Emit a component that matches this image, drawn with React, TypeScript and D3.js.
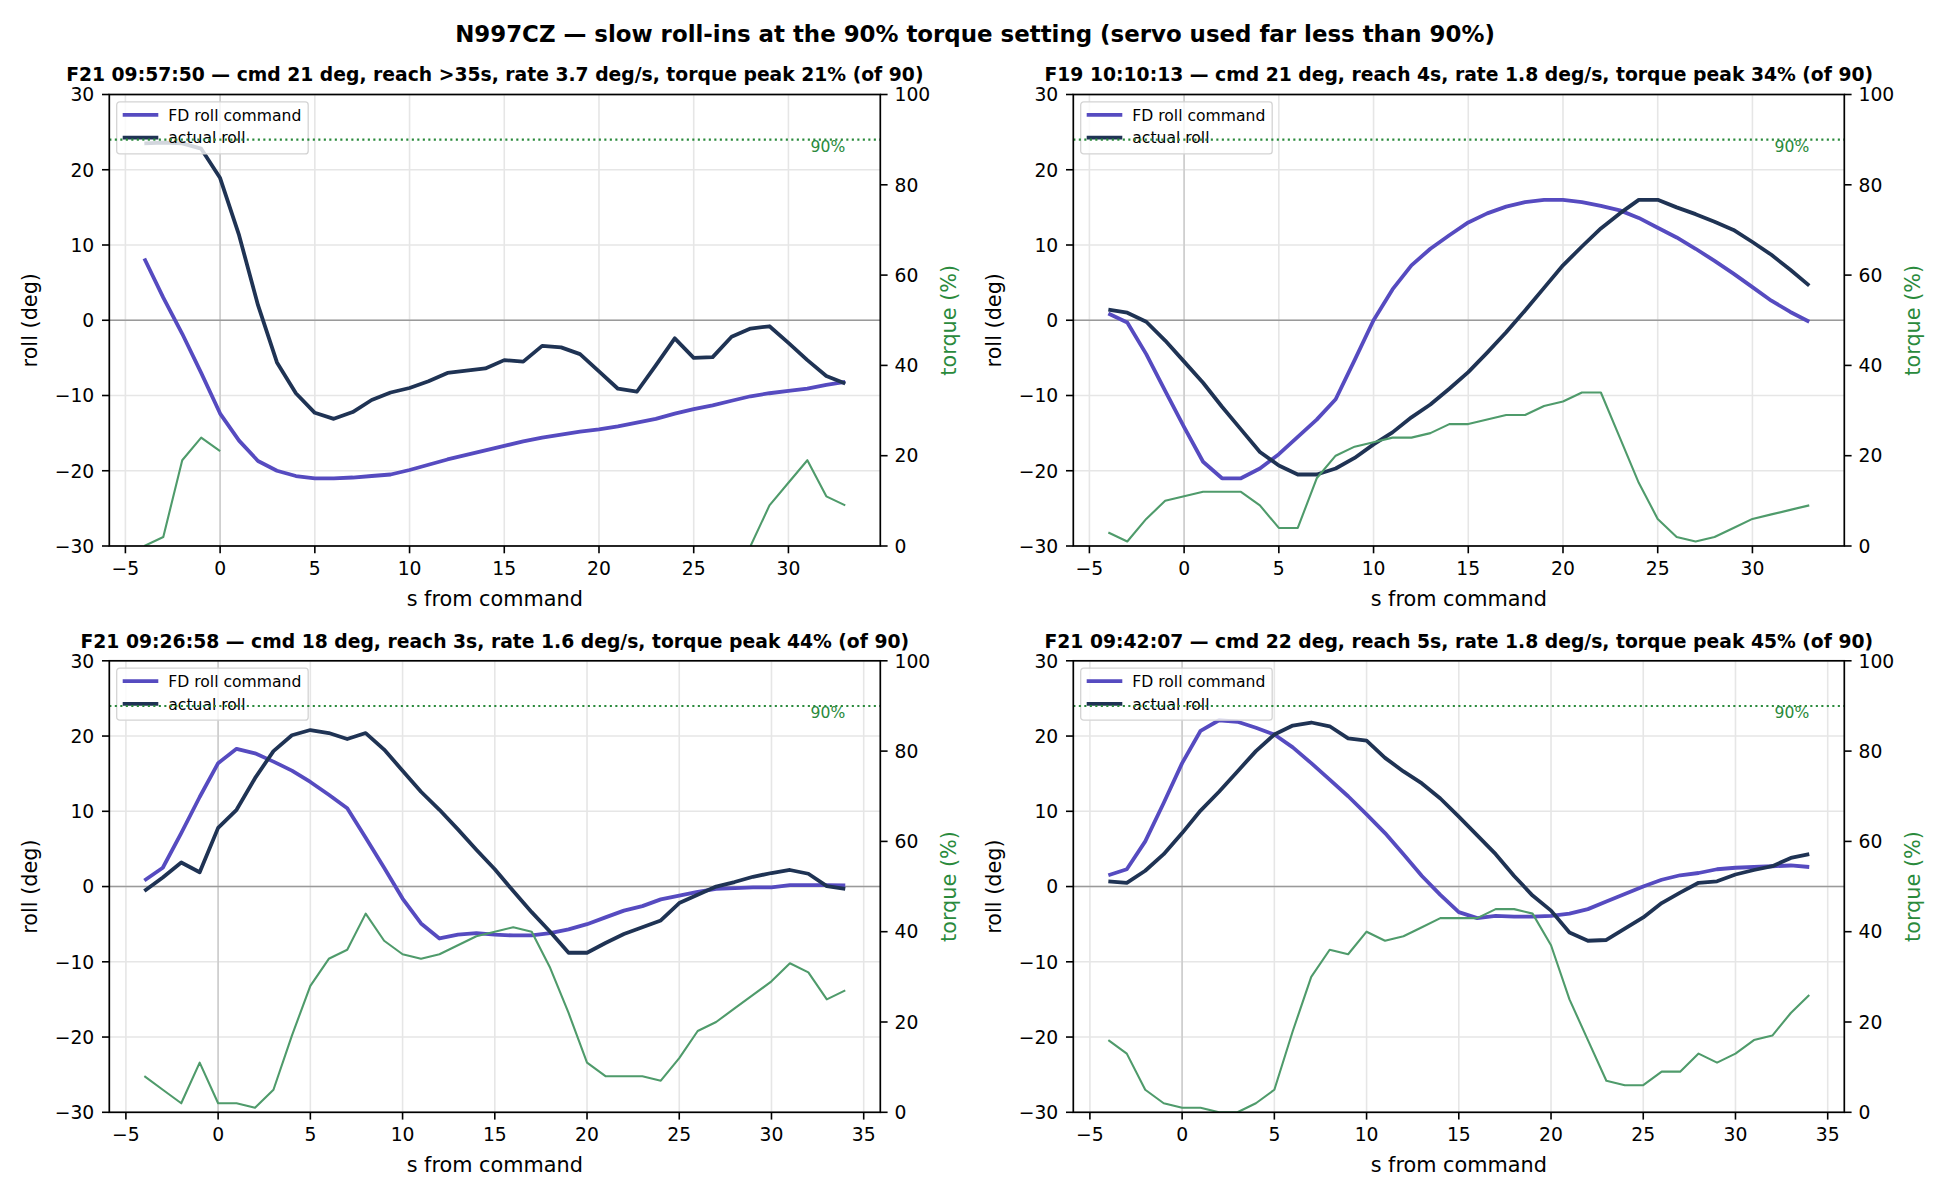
import React from 'react';
import * as d3 from 'd3';

// seconds relative to the roll command
const secsTop = [-4, -3, -2, -1, 0, 1, 2, 3, 4, 5, 6, 7, 8, 9, 10, 11, 12, 13, 14, 15, 16, 17, 18, 19, 20, 21, 22, 23, 24, 25, 26, 27, 28, 29, 30, 31, 32, 33];
const secsBottom = [-4, -3, -2, -1, 0, 1, 2, 3, 4, 5, 6, 7, 8, 9, 10, 11, 12, 13, 14, 15, 16, 17, 18, 19, 20, 21, 22, 23, 24, 25, 26, 27, 28, 29, 30, 31, 32, 33, 34];

// F21 09:57:50
const cmdA = [8.2, 3.0, -1.8, -7.0, -12.4, -16.0, -18.7, -20.0, -20.7, -21.0, -21.0, -20.9, -20.7, -20.5, -19.9, -19.2, -18.5, -17.9, -17.3, -16.7, -16.1, -15.6, -15.2, -14.8, -14.5, -14.1, -13.6, -13.1, -12.4, -11.8, -11.3, -10.7, -10.1, -9.7, -9.4, -9.1, -8.6, -8.2];
const rollA = [23.5, 23.6, 23.5, 22.8, 18.9, 11.3, 2.0, -5.6, -9.7, -12.3, -13.1, -12.2, -10.6, -9.6, -9.0, -8.1, -7.0, -6.7, -6.4, -5.3, -5.5, -3.4, -3.6, -4.5, -6.8, -9.1, -9.5, -6.0, -2.4, -5.0, -4.9, -2.2, -1.1, -0.8, -3.0, -5.3, -7.4, -8.4];
const torqueA = [0, 2, 19, 24, 21, null, null, null, null, null, null, null, null, null, null, null, null, null, null, null, null, null, null, null, null, null, null, null, null, null, null, null, 0, 9, 14, 19, 11, 9];

// F19 10:10:13
const cmdB = [0.9, -0.3, -4.5, -9.4, -14.2, -18.8, -21.0, -21.0, -19.7, -17.8, -15.5, -13.2, -10.5, -5.3, 0.0, 4.1, 7.3, 9.5, 11.3, 13.0, 14.2, 15.1, 15.7, 16.0, 16.0, 15.7, 15.2, 14.6, 13.6, 12.3, 11.0, 9.5, 7.9, 6.2, 4.4, 2.6, 1.1, -0.2];
const rollB = [1.4, 1.0, -0.2, -2.7, -5.5, -8.3, -11.5, -14.5, -17.5, -19.3, -20.5, -20.5, -19.7, -18.3, -16.5, -14.9, -12.9, -11.2, -9.1, -6.9, -4.3, -1.6, 1.3, 4.3, 7.3, 9.8, 12.2, 14.2, 16.0, 16.0, 15.0, 14.1, 13.1, 12.0, 10.4, 8.7, 6.7, 4.6];
const torqueB = [3, 1, 6, 10, 11, 12, 12, 12, 9, 4, 4, 15, 20, 22, 23, 24, 24, 25, 27, 27, 28, 29, 29, 31, 32, 34, 34, 24, 14, 6, 2, 1, 2, 4, 6, 7, 8, 9];

// F21 09:26:58
const cmdC = [0.8, 2.5, 7.1, 11.9, 16.4, 18.3, 17.7, 16.6, 15.4, 13.9, 12.2, 10.4, 6.5, 2.5, -1.6, -4.9, -6.9, -6.4, -6.2, -6.4, -6.5, -6.5, -6.2, -5.7, -5.0, -4.1, -3.2, -2.6, -1.7, -1.2, -0.7, -0.3, -0.2, -0.1, -0.1, 0.2, 0.2, 0.2, 0.15];
const rollC = [-0.6, 1.2, 3.2, 1.9, 7.8, 10.2, 14.4, 18.0, 20.1, 20.8, 20.4, 19.6, 20.4, 18.2, 15.4, 12.6, 10.2, 7.6, 4.9, 2.3, -0.6, -3.4, -6.0, -8.8, -8.8, -7.5, -6.3, -5.4, -4.5, -2.2, -1.1, 0.0, 0.6, 1.3, 1.8, 2.2, 1.7, 0.05, -0.3];
const torqueC = [8, 5, 2, 11, 2, 2, 1, 5, 17, 28, 34, 36, 44, 38, 35, 34, 35, 37, 39, 40, 41, 40, 32, 22, 11, 8, 8, 8, 7, 12, 18, 20, 23, 26, 29, 33, 31, 25, 27];

// F21 09:42:07
const cmdD = [1.5, 2.3, 6.0, 11.1, 16.4, 20.7, 22.1, 21.9, 21.1, 20.2, 18.5, 16.4, 14.2, 12.0, 9.6, 7.1, 4.3, 1.4, -1.1, -3.4, -4.2, -3.9, -4.0, -4.0, -3.9, -3.6, -3.0, -2.0, -1.0, 0.0, 0.9, 1.5, 1.8, 2.3, 2.5, 2.6, 2.7, 2.8, 2.6];
const rollD = [0.7, 0.5, 2.1, 4.3, 7.1, 10.1, 12.6, 15.3, 18.0, 20.2, 21.4, 21.8, 21.3, 19.7, 19.4, 17.1, 15.3, 13.7, 11.7, 9.3, 6.8, 4.3, 1.4, -1.2, -3.2, -6.1, -7.2, -7.1, -5.6, -4.1, -2.2, -0.8, 0.5, 0.7, 1.6, 2.2, 2.7, 3.8, 4.3];
const torqueD = [16, 13, 5, 2, 1, 1, 0, 0, 2, 5, 18, 30, 36, 35, 40, 38, 39, 41, 43, 43, 43, 45, 45, 44, 37, 25, 16, 7, 6, 6, 9, 9, 13, 11, 13, 16, 17, 22, 26];

const panelTitles = [
  'F21 09:57:50 \u2014 cmd 21 deg, reach >35s, rate 3.7 deg/s, torque peak 21% (of 90)',
  'F19 10:10:13 \u2014 cmd 21 deg, reach 4s, rate 1.8 deg/s, torque peak 34% (of 90)',
  'F21 09:26:58 \u2014 cmd 18 deg, reach 3s, rate 1.6 deg/s, torque peak 44% (of 90)',
  'F21 09:42:07 \u2014 cmd 22 deg, reach 5s, rate 1.8 deg/s, torque peak 45% (of 90)',
];
const suptitle = 'N997CZ \u2014 slow roll-ins at the 90% torque setting (servo used far less than 90%)';

const xTicksTop = [-5, 0, 5, 10, 15, 20, 25, 30];
const xTicksBottom = [-5, 0, 5, 10, 15, 20, 25, 30, 35];
const rollTicks = [-30, -20, -10, 0, 10, 20, 30];
const torqueTicks = [0, 20, 40, 60, 80, 100];
const torqueLimit = 90;

const FONT = 'DejaVu Sans';
const CMD_COLOR = '#564bc0';
const ROLL_COLOR = '#1f3354';
const TORQUE_COLOR = '#4f9b6b';
const LIMIT_COLOR = '#2a8a3c';

const AX_W = 771;
const AX_H = 451.5;
const colLeft = [109.3, 1073.3];
const rowTop = [94.5, 660.8];

const fmt = (v: number) => (v < 0 ? '\u2212' + Math.abs(v) : String(v));

type PanelProps = {
  id: string;
  left: number;
  top: number;
  title: string;
  secs: number[];
  cmd: number[];
  roll: number[];
  torque: (number | null)[];
  xTicks: number[];
};

function Panel({ id, left, top, title, secs, cmd, roll, torque, xTicks }: PanelProps) {
  const lo = secs[0];
  const hi = secs[secs.length - 1];
  const pad = (hi - lo) * 0.05;
  const x = d3.scaleLinear().domain([lo - pad, hi + pad]).range([0, AX_W]);
  const y = d3.scaleLinear().domain([-30, 30]).range([AX_H, 0]);
  const y2 = d3.scaleLinear().domain([0, 100]).range([AX_H, 0]);

  const rollLine = d3
    .line<number>()
    .x((_, i) => x(secs[i]))
    .y((d) => y(d));
  const torqueLine = d3
    .line<number | null>()
    .defined((d) => d != null)
    .x((_, i) => x(secs[i]))
    .y((d) => y2(d as number));

  const clip = `clip-${id}`;
  const legX = 7.4;
  const legY = 7.4;

  return (
    <g transform={`translate(${left},${top})`}>
      <defs>
        <clipPath id={clip}>
          <rect x={0} y={0} width={AX_W} height={AX_H} />
        </clipPath>
      </defs>

      {/* grid */}
      <g clipPath={`url(#${clip})`}>
        {xTicks.map((t) => (
          <line key={`gx${t}`} x1={x(t)} x2={x(t)} y1={0} y2={AX_H} stroke="#e6e6e6" strokeWidth={1.6} />
        ))}
        {rollTicks.map((t) => (
          <line key={`gy${t}`} x1={0} x2={AX_W} y1={y(t)} y2={y(t)} stroke="#e6e6e6" strokeWidth={1.6} />
        ))}
        <line x1={x(0)} x2={x(0)} y1={0} y2={AX_H} stroke="#cdcdcd" strokeWidth={1.6} />
        <line x1={0} x2={AX_W} y1={y(0)} y2={y(0)} stroke="#9a9a9a" strokeWidth={1.6} />

        <path d={rollLine(cmd) || ''} fill="none" stroke={CMD_COLOR} strokeWidth={3.8} strokeLinejoin="round" />
        <path d={rollLine(roll) || ''} fill="none" stroke={ROLL_COLOR} strokeWidth={3.8} strokeLinejoin="round" />
      </g>

      {/* legend */}
      <g transform={`translate(${legX},${legY})`}>
        <rect x={0} y={0} width={191.5} height={52} rx={3} fill="#fff" fillOpacity={0.8} stroke="#d4d4d4" strokeWidth={1.3} />
        <line x1={6} x2={41.6} y1={13} y2={13} stroke={CMD_COLOR} strokeWidth={3.8} />
        <text x={51.6} y={13} dy="0.36em" fontSize={15.6} fontFamily={FONT}>FD roll command</text>
        <line x1={6} x2={41.6} y1={35.7} y2={35.7} stroke={ROLL_COLOR} strokeWidth={3.8} />
        <text x={51.6} y={35.7} dy="0.36em" fontSize={15.6} fontFamily={FONT}>actual roll</text>
      </g>

      {/* torque on the twin axis */}
      <g clipPath={`url(#${clip})`}>
        <path d={torqueLine(torque) || ''} fill="none" stroke={TORQUE_COLOR} strokeWidth={2.1} strokeLinejoin="round" />
        <line x1={0} x2={AX_W} y1={y2(torqueLimit)} y2={y2(torqueLimit)} stroke={LIMIT_COLOR} strokeWidth={2.1} strokeDasharray="2.1 3.4" />
      </g>
      <text x={x(hi)} y={y2(torqueLimit) + 12} textAnchor="end" fontSize={15.6} fontFamily={FONT} fill={LIMIT_COLOR}>
        {`${torqueLimit}%`}
      </text>

      {/* spines */}
      <rect x={0} y={0} width={AX_W} height={AX_H} fill="none" stroke="#000" strokeWidth={1.7} />

      {/* x axis */}
      {xTicks.map((t) => (
        <g key={`xt${t}`} transform={`translate(${x(t)},${AX_H})`}>
          <line y1={0} y2={7.3} stroke="#000" strokeWidth={1.6} />
          <text y={28.8} textAnchor="middle" fontSize={18.75} fontFamily={FONT}>{fmt(t)}</text>
        </g>
      ))}
      <text x={AX_W / 2} y={AX_H + 59.5} textAnchor="middle" fontSize={20.8} fontFamily={FONT}>s from command</text>

      {/* left axis */}
      {rollTicks.map((t) => (
        <g key={`yt${t}`} transform={`translate(0,${y(t)})`}>
          <line x1={-7.3} x2={0} stroke="#000" strokeWidth={1.6} />
          <text x={-15} dy="0.36em" textAnchor="end" fontSize={18.75} fontFamily={FONT}>{fmt(t)}</text>
        </g>
      ))}
      <text transform={`translate(-72,${AX_H / 2}) rotate(-90)`} textAnchor="middle" fontSize={20.8} fontFamily={FONT}>roll (deg)</text>

      {/* right axis */}
      {torqueTicks.map((t) => (
        <g key={`tt${t}`} transform={`translate(${AX_W},${y2(t)})`}>
          <line x1={0} x2={7.3} stroke="#000" strokeWidth={1.6} />
          <text x={14.2} dy="0.36em" fontSize={18.75} fontFamily={FONT}>{fmt(t)}</text>
        </g>
      ))}
      <text transform={`translate(${AX_W + 76},${AX_H / 2}) rotate(-90)`} textAnchor="middle" fontSize={20.8} fontFamily={FONT} fill={LIMIT_COLOR}>
        torque (%)
      </text>

      <text x={AX_W / 2} y={-13.3} textAnchor="middle" fontSize={18.75} fontWeight="bold" fontFamily={FONT}>{title}</text>
    </g>
  );
}

export default function App() {
  return (
    <svg
      width={1950}
      height={1200}
      viewBox="0 0 1950 1200"
      style={{ position: 'absolute', left: 0, top: 0, display: 'block', background: '#fff' }}
    >
      <rect width={1950} height={1200} fill="#fff" />
      <text x={975} y={41.7} textAnchor="middle" fontSize={22.9} fontWeight="bold" fontFamily={FONT}>{suptitle}</text>
      <Panel id="a" left={colLeft[0]} top={rowTop[0]} title={panelTitles[0]} secs={secsTop} cmd={cmdA} roll={rollA} torque={torqueA} xTicks={xTicksTop} />
      <Panel id="b" left={colLeft[1]} top={rowTop[0]} title={panelTitles[1]} secs={secsTop} cmd={cmdB} roll={rollB} torque={torqueB} xTicks={xTicksTop} />
      <Panel id="c" left={colLeft[0]} top={rowTop[1]} title={panelTitles[2]} secs={secsBottom} cmd={cmdC} roll={rollC} torque={torqueC} xTicks={xTicksBottom} />
      <Panel id="d" left={colLeft[1]} top={rowTop[1]} title={panelTitles[3]} secs={secsBottom} cmd={cmdD} roll={rollD} torque={torqueD} xTicks={xTicksBottom} />
    </svg>
  );
}
